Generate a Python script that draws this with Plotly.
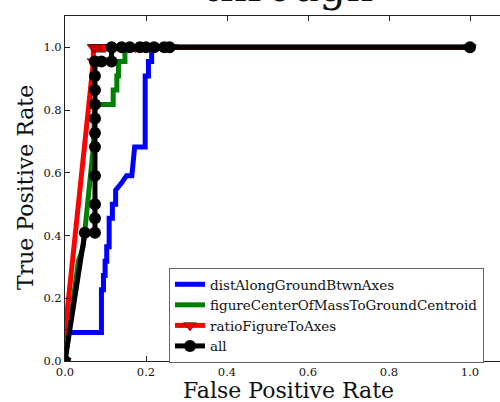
import plotly.graph_objects as go

# ---- data ----
blue_name = "distAlongGroundBtwnAxes"
blue_fpr = [0.0, 0.0, 0.090, 0.090, 0.095, 0.095, 0.099, 0.099, 0.103, 0.103, 0.109, 0.109,
            0.117, 0.117, 0.125, 0.125, 0.140, 0.152, 0.165, 0.172, 0.198, 0.198, 0.206, 0.206,
            0.214, 0.214, 1.0]
blue_tpr = [0.0, 0.091, 0.091, 0.227, 0.227, 0.273, 0.273, 0.318, 0.318, 0.364, 0.364, 0.455,
            0.455, 0.500, 0.500, 0.545, 0.568, 0.591, 0.591, 0.682, 0.682, 0.909, 0.909, 0.955,
            0.955, 1.0, 1.0]

green_name = "figureCenterOfMassToGroundCentroid"
green_fpr = [0.0, 0.033, 0.045, 0.070, 0.074, 0.119, 0.119, 0.128, 0.128, 0.132, 0.132,
             0.148, 0.148, 1.0]
green_tpr = [0.0, 0.318, 0.364, 0.682, 0.818, 0.818, 0.864, 0.864, 0.909, 0.909, 0.955,
             0.955, 1.0, 1.0]

red_name = "ratioFigureToAxes"
red_fpr = [0.0, 0.0, 0.070, 0.070, 0.074, 0.079, 0.084, 0.089, 0.094, 0.099, 0.123, 0.148,
           0.173, 0.198, 0.222, 0.247, 0.263, 1.0]
red_tpr = [0.0, 0.091, 0.955, 1.0, 1.0, 1.0, 1.0, 1.0, 1.0, 1.0, 1.0, 1.0,
           1.0, 1.0, 1.0, 1.0, 1.0, 1.0]

black_name = "all"
black_fpr = [0.0, 0.049, 0.074, 0.074, 0.074, 0.074, 0.074, 0.074, 0.074, 0.074, 0.074,
             0.074, 0.074, 0.090, 0.115, 0.115, 0.140, 0.160, 0.185, 0.200, 0.220, 0.245,
             0.258, 1.0]
black_tpr = [0.0, 0.409, 0.409, 0.455, 0.500, 0.591, 0.682, 0.727, 0.773, 0.818, 0.864,
             0.909, 0.955, 0.955, 0.955, 1.0, 1.0, 1.0, 1.0, 1.0, 1.0, 1.0,
             1.0, 1.0]

x_ticks = [0.0, 0.2, 0.4, 0.6, 0.8, 1.0]
x_tick_text = ["0.0", "0.2", "0.4", "0.6", "0.8", "1.0"]
y_ticks = [0.0, 0.2, 0.4, 0.6, 0.8, 1.0]
y_tick_text = ["0.0", "0.2", "0.4", "0.6", "0.8", "1.0"]

title_text = "through"
x_title = "False Positive Rate"
y_title = "True Positive Rate"

# ---- figure ----
SERIF = "DejaVu Serif"
W, H = 500, 402
L, T, B = 65, 16, 41
PH = H - T - B  # 345


def py(p):  # pixel y -> paper y
    return (H - B - p) / PH


def px(p):  # pixel x -> paper x
    return (p - L) / (W - L)


fig = go.Figure()
fig.add_trace(go.Scatter(x=blue_fpr, y=blue_tpr, mode="lines", name=blue_name,
                         line=dict(color="#0000ff", width=5)))
fig.add_trace(go.Scatter(x=green_fpr, y=green_tpr, mode="lines", name=green_name,
                         line=dict(color="#008000", width=5)))
fig.add_trace(go.Scatter(x=red_fpr, y=red_tpr, mode="lines+markers", name=red_name,
                         line=dict(color="#ff0000", width=5),
                         marker=dict(symbol="triangle-down", size=11, color="#ff0000",
                                     line=dict(color="black", width=0.5))))
fig.add_trace(go.Scatter(x=black_fpr, y=black_tpr, mode="lines+markers", name=black_name,
                         line=dict(color="#000000", width=5),
                         marker=dict(symbol="circle", size=12, color="#000000")))

axis_common = dict(
    showgrid=False, zeroline=False, showline=True, linecolor="#222222", linewidth=1,
    ticks="inside", ticklen=5, tickcolor="#222222", tickwidth=1,
    tickfont=dict(family=SERIF, size=11.5, color="#111111"),
)

fig.update_layout(
    width=W, height=H,
    margin=dict(l=L, r=0, t=T, b=B, pad=0, autoexpand=False),
    paper_bgcolor="white", plot_bgcolor="white",
    xaxis=dict(range=[0, 1.1 * (W - L) / 445.5], tickvals=x_ticks, ticktext=x_tick_text,
               mirror="ticks", ticklabelstandoff=0, automargin=False, **axis_common),
    yaxis=dict(range=[0, 1.1], tickvals=y_ticks, ticktext=y_tick_text, automargin=False,
               **axis_common),
    showlegend=True,
    legend=dict(x=px(169), y=py(268), xanchor="left", yanchor="top",
                bgcolor="white", bordercolor="#666666", borderwidth=1,
                font=dict(family=SERIF, size=13.5, color="#111111"),
                tracegroupgap=0),
    annotations=[
        dict(text=title_text, xref="paper", yref="paper", x=px(288), y=py(-13),
             xanchor="center", yanchor="middle", showarrow=False,
             font=dict(family=SERIF, size=42, color="#111111")),
        dict(text=x_title, xref="paper", yref="paper", x=px(288), y=py(390),
             xanchor="center", yanchor="middle", showarrow=False,
             font=dict(family=SERIF, size=22, color="#111111")),
        dict(text=y_title, xref="paper", yref="paper", x=px(25), y=py(188),
             xanchor="center", yanchor="middle", showarrow=False, textangle=-90,
             font=dict(family=SERIF, size=22, color="#111111")),
    ],
)

fig.write_html("out.html")
